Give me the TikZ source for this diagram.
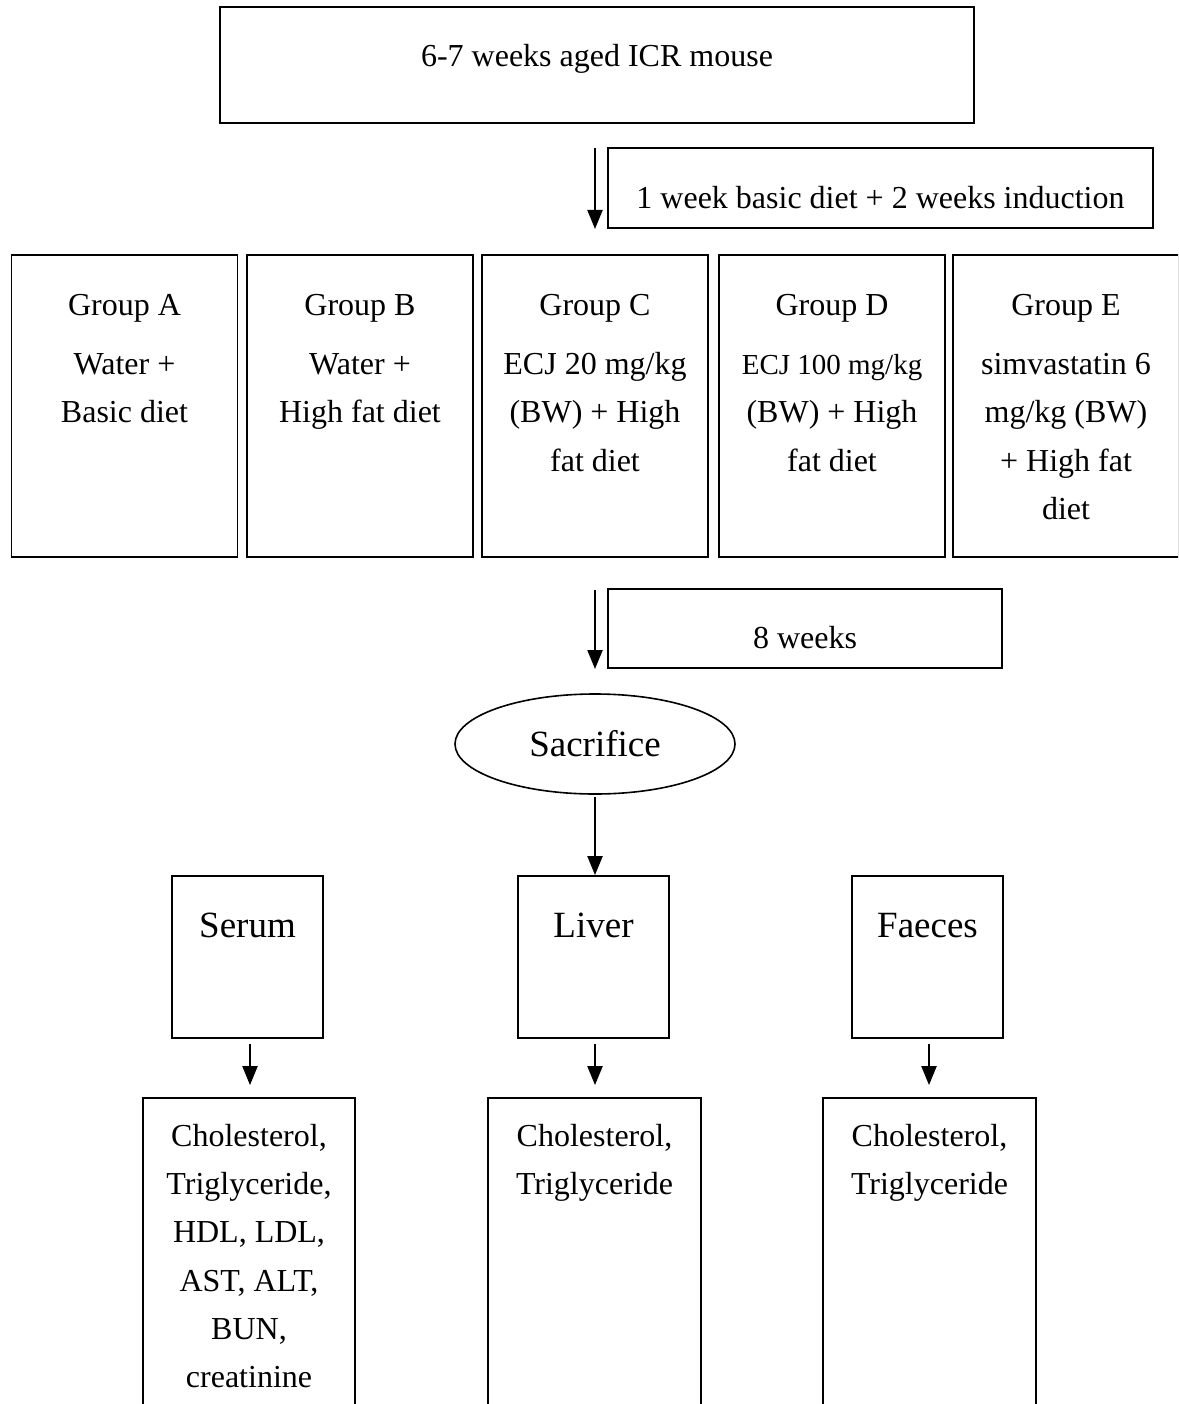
\documentclass[tikz,border=0pt]{standalone}
\usepackage{fontspec}
\setmainfont{Liberation Serif}
\usetikzlibrary{arrows.meta,shapes.geometric}
\tikzset{
  x=1pt,y=-1pt,
  box/.style={draw,line width=1.8pt,inner sep=0pt,minimum width=#1},
  txt/.style={inner sep=0pt,align=center,anchor=north,font=\fontsize{32}{48.3}\selectfont},
  bigtxt/.style={inner sep=0pt,font=\fontsize{37}{44}\selectfont},
  arr/.style={line width=2.2pt,-{Triangle[width=15pt,length=19pt]}},
}
\begin{document}
\begin{tikzpicture}
\useasboundingbox (0,0) rectangle (1178,1404);
\clip (0,0) rectangle (1178,1404);
% top
\node[box=754pt,minimum height=116pt] (top) at (597,65) {};
\node[txt] (toptxt) at (597,66-33.8) {\strut 6-7 weeks aged ICR mouse};
\node[box=545pt,minimum height=80pt] (ind) at (880.5,188) {};
\node[txt] (indtxt) at (880.5,208-33.8) {\strut 1 week basic diet + 2 weeks induction};
\coordinate (a1s) at (595,148);
\coordinate (a1e) at (595,229);
\draw[arr] (a1s) -- (a1e);
% groups
\foreach \n/\x in {A/124.5,B/360,C/595,D/832,E/1066}{
  \node[box=226pt,minimum height=302pt] (g\n) at (\x,406) {};
}
\node[txt] (tA) at (124.5,315-33.8) {\strut Group A\\[11pt]Water +\\Basic diet};
\node[txt] (tB) at (360,315-33.8) {\strut Group B\\[11pt]Water +\\High fat diet};
\node[txt] (tC) at (595,315-33.8) {\strut Group C\\[11pt]ECJ 20 mg/kg\\(BW) + High\\fat diet};
\node[txt] (tD) at (832,315-33.8) {\strut Group D\\[11pt]{\fontsize{29}{48.3}\selectfont ECJ 100 mg/kg}\\(BW) + High\\fat diet};
\node[txt] (tE) at (1066,315-33.8) {\strut Group E\\[11pt]simvastatin 6\\mg/kg (BW)\\+ High fat\\diet};
% 8 weeks
\node[box=394pt,minimum height=79pt] (wk) at (805,628.5) {};
\node[txt] (wktxt) at (805,648-33.8) {\strut 8 weeks};
\coordinate (a2s) at (595,590);
\coordinate (a2e) at (595,669);
\draw[arr] (a2s) -- (a2e);
% sacrifice
\node[draw,line width=1.6pt,ellipse,minimum width=280pt,minimum height=100pt,inner sep=0pt] (sac) at (595,744) {};
\node[bigtxt] (sactxt) at (595,744) {Sacrifice};
% samples
\foreach \n/\x in {serum/247.5,liver/593.5,faeces/927.5}{
  \node[box=151pt,minimum height=162pt] (\n) at (\x,957) {};
}
\node[bigtxt,anchor=base] at (247.5,937) {Serum};
\node[bigtxt,anchor=base] at (593.5,937) {Liver};
\node[bigtxt,anchor=base] at (927.5,937) {Faeces};
\draw[arr,shorten <=2pt] (sac.south) -- (sac.south |- liver.north);
% results
\node[box=212pt,minimum height=330pt] (rs) at (249,1263) {};
\node[box=213pt,minimum height=330pt] (rl) at (594.5,1263) {};
\node[box=213pt,minimum height=330pt] (rf) at (929.5,1263) {};
\node[txt] (rstxt) at (249,1146-33.8) {\strut Cholesterol,\\Triglyceride,\\HDL, LDL,\\AST, ALT,\\BUN,\\creatinine};
\node[txt] (rltxt) at (594.5,1146-33.8) {\strut Cholesterol,\\Triglyceride};
\node[txt] (rftxt) at (929.5,1146-33.8) {\strut Cholesterol,\\Triglyceride};
\draw[arr,shorten <=5pt,shorten >=12pt] (serum.south -| 250,0) -- (rs.north -| 250,0);
\draw[arr,shorten <=5pt,shorten >=12pt] (liver.south -| 595,0) -- (rl.north -| 595,0);
\draw[arr,shorten <=5pt,shorten >=12pt] (faeces.south -| 929,0) -- (rf.north -| 929,0);
\end{tikzpicture}
\end{document}
